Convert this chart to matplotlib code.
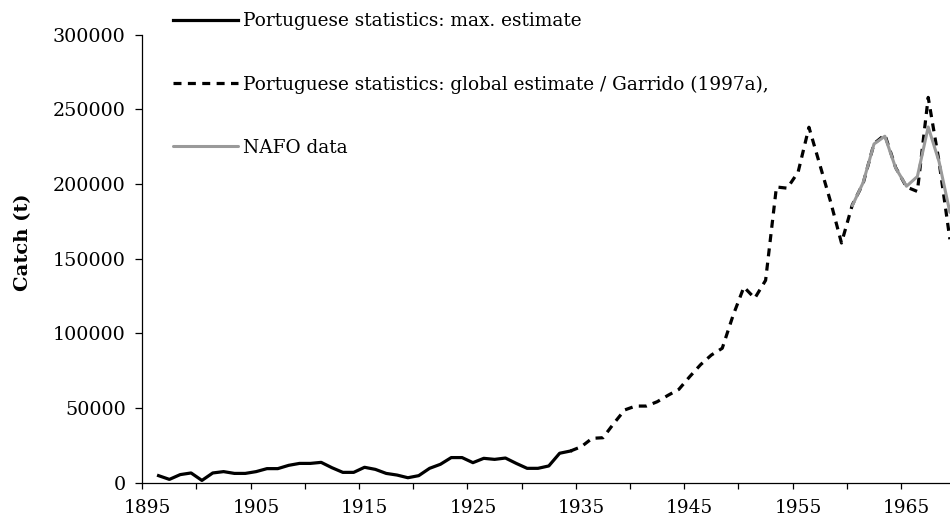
import matplotlib
matplotlib.use("Agg")
import matplotlib.pyplot as plt
from matplotlib.ticker import FixedLocator, FuncFormatter

plt.rcParams["font.family"] = ["DejaVu Serif"]

# ---- data ----
years_max = list(range(1896, 1935))
max_estimate = [4700, 2200, 5400, 6500, 1500, 6500, 7400, 6200, 6200, 7400,
                9400, 9400, 11600, 12900, 12900, 13600, 10000, 6900, 6900, 10300,
                8900, 6200, 5100, 3300, 4700, 9600, 12300, 16800, 16800, 13400,
                16300, 15600, 16500, 12900, 9600, 9600, 11200, 19700, 21200]

years_global = list(range(1934, 1970))
global_estimate = [21200, 24100, 29700, 30100, 39700, 48700, 51300, 51300, 54200, 58500,
                   62500, 71000, 79000, 85500, 90000, 112000, 131000, 123500, 135500, 198000,
                   197200, 208000, 238000, 213000, 188000, 160500, 186000, 200500, 227000, 233000,
                   211000, 198000, 195000, 258000, 215000, 163000]

years_nafo = list(range(1960, 1970))
nafo_data = [185500, 201000, 226800, 232000, 210700, 198500, 205000, 238200, 215000, 181000]

label_max = "Portuguese statistics: max. estimate"
label_global = "Portuguese statistics: global estimate / Garrido (1997a),"
label_nafo = "NAFO data"
ylabel = "Catch (t)"
xtick_labels = [1895, 1905, 1915, 1925, 1935, 1945, 1955, 1965]
ytick_values = [0, 50000, 100000, 150000, 200000, 250000, 300000]

# ---- figure ----
W, H = 950, 519
fig = plt.figure(figsize=(W / 100, H / 100), dpi=100)
x0, x1 = 142.3, 955.3
y0, y1 = 482.67, 34.67
ax = fig.add_axes([x0 / W, (H - y0) / H, (x1 - x0) / W, (y0 - y1) / H])

lw = 2.3
ax.plot(years_global, global_estimate, color="black", lw=lw, dashes=(2.5, 2.0),
        dash_capstyle="butt", label=label_global, zorder=3)
ax.plot(years_max, max_estimate, color="black", lw=lw, solid_joinstyle="round",
        label=label_max, zorder=4)
ax.plot(years_nafo, nafo_data, color="#9a9a9a", lw=2.2, solid_joinstyle="round",
        solid_capstyle="round", label=label_nafo, zorder=5)

ax.set_xlim(1894.5, 1969.5)
ax.set_ylim(0, 300000)

for s in ("top", "right"):
    ax.spines[s].set_visible(False)
for s in ("left", "bottom"):
    ax.spines[s].set_linewidth(0.9)
    ax.spines[s].set_color("black")

ax.xaxis.set_major_locator(FixedLocator(xtick_labels))
ax.xaxis.set_major_formatter(FuncFormatter(lambda v, p: f"{int(round(v))}"))
ax.xaxis.set_minor_locator(FixedLocator([1894.5 + 5 * i for i in range(16)]))
ax.tick_params(axis="x", which="major", length=0, pad=12, labelsize=13.3)
ax.tick_params(axis="x", which="minor", length=4, width=0.9, direction="out")

ax.yaxis.set_major_locator(FixedLocator(ytick_values))
ax.yaxis.set_major_formatter(FuncFormatter(lambda v, p: f"{int(v)}"))
ax.tick_params(axis="y", which="major", length=5, width=0.9, direction="out", pad=7, labelsize=13.8)

fig.text(23 / W, (H - 242) / H, ylabel, rotation=90, ha="center", va="center",
         fontsize=14, fontweight="bold")

handles, labels = ax.get_legend_handles_labels()
order = [1, 0, 2]
leg = fig.legend([handles[i] for i in order], [labels[i] for i in order],
                 loc="upper left", bbox_to_anchor=(173 / W, 1 - 12 / H),
                 frameon=False, handlelength=3.5, handletextpad=0.3,
                 labelspacing=2.45, borderpad=0, borderaxespad=0,
                 prop={"size": 13.3})

fig.savefig("out.png", dpi=100)
